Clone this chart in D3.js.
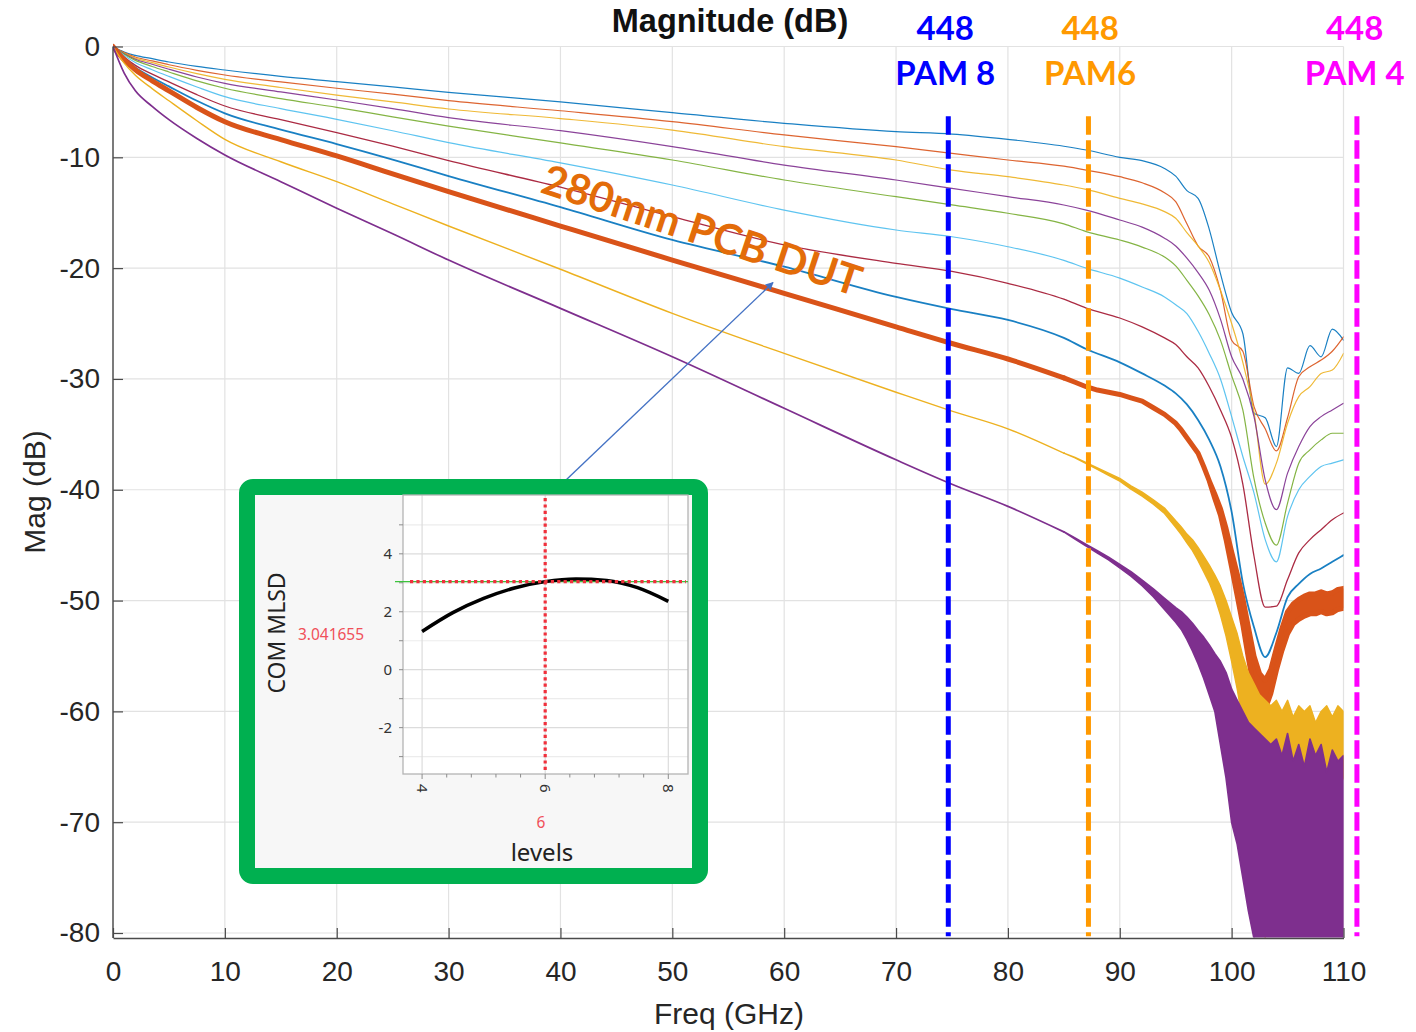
<!DOCTYPE html>
<html>
<head>
<meta charset="utf-8">
<script src="https://cdn.jsdelivr.net/npm/d3@7"></script>
<style>
  html, body { margin: 0; padding: 0; background: #ffffff; }
  #wrapper { width: 1416px; height: 1032px; }
</style>
</head>
<body>
<div id="wrapper"></div>
<script>

// 0. Data
const freqGHz = [0, 1, 2, 3.5, 5, 7.5, 10, 15, 20, 25, 30, 40, 50, 60, 70, 75, 80, 85, 87, 90, 92, 94, 95, 96, 97, 98, 99, 100, 101, 102, 103, 104, 105, 106, 107, 108, 109, 110]

const magTrace1 = [0, -0.5, -0.8, -1.1, -1.4, -1.8, -2.12, -2.7, -3.17, -3.65, -4.14, -5.0, -5.97, -6.93, -7.69, -7.9, -8.38, -9.0, -9.34, -10.0, -10.3, -11.0, -11.7, -13.0, -13.7, -16.5, -20.5, -24.0, -25.9, -33.1, -33.5, -36.1, -29.0, -29.5, -27.0, -28.0, -25.5, -26.5]
const magTrace2 = [0, -0.55, -0.95, -1.3, -1.65, -2.15, -2.57, -3.2, -3.77, -4.3, -4.89, -5.8, -6.78, -7.98, -9.04, -9.64, -10.24, -10.8, -11.15, -11.75, -12.3, -13.2, -14.0, -16.0, -18.0, -19.0, -22.0, -26.5, -27.5, -32.5, -34.5, -36.5, -33.5, -29.8, -28.9, -28.3, -27.5, -26.2]
const magTrace3 = [0, -0.6, -1.05, -1.45, -1.85, -2.45, -2.96, -3.7, -4.38, -5.0, -5.64, -6.5, -7.54, -9.04, -10.24, -11.15, -11.75, -12.5, -12.9, -13.7, -14.2, -14.9, -15.5, -16.8, -18.0, -19.5, -22.0, -25.0, -28.5, -33.0, -39.5, -37.6, -34.0, -31.6, -30.7, -29.5, -29.2, -27.7]
const magTrace4 = [0, -0.65, -1.15, -1.6, -2.05, -2.75, -3.32, -4.1, -4.83, -5.6, -6.42, -7.6, -9.04, -10.7, -12.05, -12.8, -13.55, -14.3, -14.76, -15.66, -16.3, -17.3, -18.0, -19.1, -20.4, -22.0, -24.6, -28.0, -30.0, -33.4, -39.1, -41.8, -38.5, -36.1, -34.3, -33.4, -32.8, -32.2]
const magTrace5 = [0, -0.7, -1.25, -1.8, -2.3, -3.1, -3.77, -4.7, -5.49, -6.35, -7.18, -8.7, -10.24, -12.05, -13.55, -14.3, -15.05, -16.0, -16.7, -17.46, -18.1, -19.0, -19.8, -21.1, -22.5, -24.2, -26.5, -29.7, -32.8, -39.0, -43.0, -45.0, -41.2, -37.6, -36.4, -35.5, -34.9, -34.9]
const magTrace6 = [0, -0.8, -1.45, -2.1, -2.7, -3.65, -4.53, -5.6, -6.57, -7.6, -8.68, -10.5, -12.5, -14.76, -16.56, -17.17, -18.07, -19.3, -20.0, -20.9, -21.7, -22.6, -23.3, -24.1, -25.7, -27.7, -30.0, -33.4, -37.0, -40.3, -44.5, -46.5, -42.4, -40.0, -38.8, -37.9, -37.6, -37.3]
const magTrace7 = [0, -0.95, -1.7, -2.5, -3.2, -4.35, -5.37, -6.6, -7.78, -9.0, -10.3, -12.7, -15.36, -17.9, -19.57, -20.3, -21.37, -22.8, -23.6, -24.5, -25.3, -26.3, -26.9, -28.0, -29.0, -30.7, -32.8, -35.3, -39.5, -46.0, -50.6, -50.5, -48.1, -45.7, -44.5, -43.6, -42.7, -42.1]
const magTrace8 = [0, -1.05, -1.9, -2.8, -3.6, -4.9, -6.03, -7.5, -8.8, -10.2, -11.69, -14.5, -17.46, -19.87, -22.6, -23.7, -24.68, -26.3, -27.3, -28.5, -29.5, -30.6, -31.3, -32.3, -33.7, -35.5, -37.9, -42.0, -48.4, -52.4, -55.1, -52.9, -49.7, -48.5, -47.6, -47.1, -46.5, -45.9]
const magTrace9 = [0, -1.2, -2.1, -3.1, -4.0, -5.5, -6.79, -8.4, -9.88, -11.5, -13.1, -16.2, -19.27, -22.27, -25.3, -26.8, -28.2, -29.9, -30.7, -31.4, -32.0, -33.2, -34.0, -35.3, -36.7, -39.2, -42.0, -46.3, -51.0, -56.5, -58.5, -55.5, -51.8, -50.9, -50.3, -50.2, -50.3, -50.1]
const magTrace10 = [0, -1.5, -2.6, -3.8, -4.9, -6.7, -8.38, -10.4, -12.2, -14.2, -16.2, -20.1, -24.08, -27.7, -31.2, -32.9, -34.5, -36.7, -37.6, -39.1, -40.4, -41.9, -43.1, -44.4, -45.8, -47.6, -50.0, -53.3, -57.8, -60.4, -62.0, -63.0, -62.5, -63.0, -62.5, -63.5, -63.0, -62.8]
const magTrace11 = [0, -2.4, -4.0, -5.4, -6.6, -8.3, -9.79, -12.2, -14.6, -16.9, -19.27, -23.63, -28.0, -32.65, -37.3, -39.5, -41.5, -43.8, -45.0, -46.9, -48.4, -50.3, -51.3, -52.5, -54.2, -56.3, -59.0, -62.0, -65.0, -68.0, -70.0, -70.0, -70.0, -70.0, -70.0, -70.0, -70.0, -70.0]

// noisy tails: upper / lower envelope of the trace
const tailFreq = [85, 86, 87, 88, 89, 90, 91, 92, 93, 94, 95, 95.5, 96, 96.5, 97, 97.5, 98, 98.5, 99, 99.5, 100, 100.5, 101, 101.5, 102, 102.5, 103, 103.5, 104, 104.5, 105, 105.5, 106, 106.5, 107, 107.5, 108, 108.5, 109, 109.5, 110]
const trace9Hi = [-29.9, -30.3, -30.7, -31.0, -31.2, -31.4, -31.7, -32.0, -32.6, -33.2, -34.0, -34.6, -35.3, -36.0, -36.7, -37.9, -39.2, -40.4, -41.7, -43.5, -45.6, -47.6, -49.8, -52.4, -55.0, -56.6, -57.2, -56.2, -54.3, -52.5, -51.0, -50.3, -49.9, -49.6, -49.4, -49.4, -49.2, -49.4, -49.3, -49.0, -48.9]
const trace9Lo = [-29.9, -30.3, -30.7, -31.0, -31.2, -31.4, -31.7, -32.0, -32.6, -33.2, -34.0, -34.6, -35.3, -36.0, -36.7, -37.9, -39.2, -40.8, -42.3, -44.5, -47.0, -49.6, -52.2, -55.2, -58.0, -59.4, -59.8, -58.4, -56.3, -54.5, -53.0, -52.1, -51.7, -51.4, -51.2, -51.2, -51.0, -51.2, -51.1, -50.8, -50.7]
const trace10Hi = [-36.7, -37.08, -37.55, -38.03, -38.5, -38.98, -39.65, -40.22, -40.9, -41.65, -42.8, -43.35, -44.0, -44.5, -45.2, -46.0, -46.8, -47.7, -48.7, -50.0, -51.5, -53.0, -55.0, -56.5, -57.5, -58.5, -59.0, -59.5, -59.0, -60.0, -59.0, -60.5, -59.5, -60.0, -59.5, -61.0, -60.0, -59.5, -60.5, -59.5, -60.0]
const trace10Lo = [-36.7, -37.12, -37.65, -38.17, -38.7, -39.22, -39.95, -40.58, -41.3, -42.15, -43.4, -44.05, -44.8, -45.5, -46.4, -47.4, -48.4, -49.7, -51.3, -53.2, -55.5, -58.0, -61.0, -63.0, -66.0, -72.0, -80.5, -68.0, -66.0, -67.0, -65.0, -67.0, -66.0, -68.0, -66.0, -69.0, -67.0, -66.0, -68.0, -67.0, -66.0]
const trace11Hi = [-43.8, -44.35, -44.93, -45.5, -46.08, -46.75, -47.4, -48.15, -48.95, -49.8, -50.65, -51.0, -51.5, -52.05, -52.7, -53.3, -54.0, -54.8, -55.5, -56.5, -58.0, -59.0, -60.0, -61.0, -61.5, -62.0, -62.5, -63.0, -62.5, -64.0, -62.0, -64.5, -63.0, -65.0, -62.5, -64.0, -63.0, -65.5, -63.5, -64.5, -64.0]
const trace11Lo = [-43.8, -44.45, -45.07, -45.7, -46.32, -47.05, -47.8, -48.65, -49.65, -50.8, -51.95, -52.6, -53.5, -54.55, -55.7, -57.0, -58.5, -60.0, -63.0, -66.0, -70.0, -72.0, -75.0, -78.0, -80.5, -80.5, -80.5, -80.5, -80.5, -80.5, -80.5, -80.5, -80.5, -80.5, -80.5, -80.5, -80.5, -80.5, -80.5, -80.5, -80.5]

const traceColors = ["#0072BD", "#D95319", "#EDB120", "#7E2F8E", "#77AC30", "#4DBEEE", "#A2142F", "#0072BD", "#D95319", "#EDB120", "#7E2F8E"]
const traceWidths = [1.2, 1.2, 1.2, 1.2, 1.2, 1.2, 1.3, 1.8, 5, 1.4, 1.7]

const xTicks = [0, 10, 20, 30, 40, 50, 60, 70, 80, 90, 100, 110]
const yTicks = [0, -10, -20, -30, -40, -50, -60, -70, -80]

// data-rate markers
const markerFreq = [74.67, 87.2, 111.2]
const markerTop = ["448", "448", "448"]
const markerBottom = ["PAM 8", "PAM6", "PAM 4"]
const markerLabelFreq = [74.4, 87.35, 111.0]
const markerColors = ["#0000FF", "#FF9900", "#FF00FF"]

// inset: COM MLSD vs levels
const levels = [4, 4.5, 5, 5.5, 6, 6.5, 7, 7.5, 8]
const comMlsd = [1.32, 1.97, 2.46, 2.82, 3.04, 3.13, 3.08, 2.83, 2.36]
const insetXTicks = [4, 6, 8]
const insetXMinor = [4.4, 4.8, 5.2, 5.6, 6.4, 6.8, 7.2, 7.6]
const insetYTicks = [-2, 0, 2, 4]
const insetYGrid = [-3, -2, -1, 0, 1, 2, 3, 4, 5]
const chosenLevel = 6
const chosenMlsd = 3.041655

async function drawMagnitude() {

  // 1. Chart dimensions
  const dimensions = {
    width: 1416,
    height: 1032,
    plotLeft: 113,
    plotRight: 1343.5,
    plotTop: 46.5,
    plotBottom: 938,
  }

  // 2. Canvas
  const svg = d3.select("#wrapper")
    .append("svg")
      .attr("width", dimensions.width)
      .attr("height", dimensions.height)
      .style("font-family", "'Liberation Sans', Arial, sans-serif")

  svg.append("rect")
      .attr("width", dimensions.width)
      .attr("height", dimensions.height)
      .attr("fill", "#ffffff")

  // 3. Scales
  const xScale = d3.scaleLinear()
    .domain([0, 110])
    .range([dimensions.plotLeft, dimensions.plotRight])

  const yScale = d3.scaleLinear()
    .domain([-80.45, 0])
    .range([dimensions.plotBottom, dimensions.plotTop])

  // 4. Grid
  const grid = svg.append("g")
  grid.selectAll(".vgrid")
    .data(xTicks)
    .enter().append("line")
      .attr("x1", d => xScale(d)).attr("x2", d => xScale(d))
      .attr("y1", yScale(0)).attr("y2", dimensions.plotBottom)
      .attr("stroke", "#e2e2e2")
      .attr("stroke-width", 1.2)
  grid.selectAll(".hgrid")
    .data(yTicks)
    .enter().append("line")
      .attr("x1", dimensions.plotLeft).attr("x2", xScale(110))
      .attr("y1", d => yScale(d)).attr("y2", d => yScale(d))
      .attr("stroke", "#e2e2e2")
      .attr("stroke-width", 1.2)

  // 5. Traces
  svg.append("clipPath")
      .attr("id", "plot-clip")
    .append("rect")
      .attr("x", dimensions.plotLeft)
      .attr("y", dimensions.plotTop - 6)
      .attr("width", dimensions.plotRight - dimensions.plotLeft)
      .attr("height", dimensions.plotBottom - dimensions.plotTop + 5.5)

  const traceValues = [magTrace1, magTrace2, magTrace3, magTrace4, magTrace5, magTrace6,
    magTrace7, magTrace8, magTrace9, magTrace10, magTrace11]
  const tailBands = {
    8: {hi: trace9Hi, lo: trace9Lo},
    9: {hi: trace10Hi, lo: trace10Lo},
    10: {hi: trace11Hi, lo: trace11Lo},
  }

  const lineGenerator = d3.line()
    .curve(d3.curveMonotoneX)
    .x(d => xScale(d.f))
    .y(d => yScale(d.v))

  const bandGenerator = d3.area()
    .x(d => xScale(d.f))
    .y0(d => yScale(d.lo))
    .y1(d => yScale(d.hi))

  const traces = svg.append("g")
      .attr("clip-path", "url(#plot-clip)")

  traceValues.forEach((values, i) => {
    const band = tailBands[i]
    // with a noisy tail the clean line stops where the envelope starts
    const points = freqGHz
      .map((f, j) => ({f: f, v: values[j]}))
      .filter(d => !band || d.f <= tailFreq[0])
    traces.append("path")
        .attr("d", lineGenerator(points))
        .attr("fill", "none")
        .attr("stroke", traceColors[i])
        .attr("stroke-width", traceWidths[i])
        .attr("stroke-linejoin", "round")
        .attr("stroke-linecap", "round")
        .attr("opacity", i < 8 ? 0.9 : 1)

    if (band) {
      const bandPoints = tailFreq.map((f, j) => ({f: f, hi: band.hi[j], lo: band.lo[j]}))
      traces.append("path")
          .attr("d", bandGenerator(bandPoints))
          .attr("fill", traceColors[i])
          .attr("stroke", traceColors[i])
          .attr("stroke-width", traceWidths[i])
          .attr("stroke-linejoin", "round")
    }
  })

  // 6. Axes (MATLAB style, ticks inside)
  const xAxisGenerator = d3.axisBottom(xScale)
    .tickValues(xTicks)
    .tickFormat(d => String(d))
    .tickSizeInner(-10)
    .tickSizeOuter(0)
    .tickPadding(23)

  const yAxisGenerator = d3.axisLeft(yScale)
    .tickValues(yTicks)
    .tickFormat(d => String(d))
    .tickSizeInner(-10)
    .tickSizeOuter(0)
    .tickPadding(13)

  const xAxis = svg.append("g")
      .attr("transform", `translate(0, ${dimensions.plotBottom})`)
      .call(xAxisGenerator)
  const yAxis = svg.append("g")
      .attr("transform", `translate(${dimensions.plotLeft}, 0)`)
      .call(yAxisGenerator)

  ;[xAxis, yAxis].forEach(axis => {
    axis.select(".domain").attr("stroke", "#4a4a4a").attr("stroke-width", 1.4)
    axis.selectAll(".tick line").attr("stroke", "#4a4a4a").attr("stroke-width", 1.2)
    axis.selectAll(".tick text")
        .attr("fill", "#262626")
        .style("font-family", "'Liberation Sans', Arial, sans-serif")
        .style("font-size", "28px")
  })
  yAxis.select(".domain").attr("d", `M0,${dimensions.plotBottom}V${dimensions.plotTop}`)

  svg.append("text")
      .attr("x", 729)
      .attr("y", 1024)
      .attr("text-anchor", "middle")
      .attr("fill", "#262626")
      .style("font-size", "30px")
      .text("Freq (GHz)")

  svg.append("text")
      .attr("transform", "translate(45, 492) rotate(-90)")
      .attr("text-anchor", "middle")
      .attr("fill", "#262626")
      .style("font-size", "30px")
      .text("Mag (dB)")

  svg.append("text")
      .attr("x", 730)
      .attr("y", 32)
      .attr("text-anchor", "middle")
      .attr("fill", "#111111")
      .style("font-size", "32.5px")
      .style("font-weight", "bold")
      .text("Magnitude (dB)")

  // 7. Data-rate markers
  markerFreq.forEach((f, i) => {
    svg.append("line")
        .attr("x1", xScale(f)).attr("x2", xScale(f))
        .attr("y1", yScale(-6.3)).attr("y2", yScale(-80.3))
        .attr("stroke", markerColors[i])
        .attr("stroke-width", 5)
        .attr("stroke-dasharray", "18.5,5.5")

    const label = svg.append("text")
        .attr("text-anchor", "middle")
        .attr("fill", markerColors[i])
        .style("font-family", "Lato, 'Open Sans', sans-serif")
        .style("font-weight", "bold")
        .style("font-size", "33px")
    label.append("tspan")
        .attr("x", xScale(markerLabelFreq[i]))
        .attr("y", 40)
        .text(markerTop[i])
    label.append("tspan")
        .attr("x", xScale(markerLabelFreq[i]))
        .attr("y", 85)
        .text(markerBottom[i])
  })

  // 8. DUT annotation and arrow
  svg.append("text")
      .attr("transform", "translate(539, 192) rotate(18.3)")
      .attr("fill", "#E36C09")
      .style("font-family", "Lato, 'Open Sans', sans-serif")
      .style("font-weight", "bold")
      .style("font-size", "42px")
      .text("280mm PCB DUT")

  svg.append("defs").append("marker")
      .attr("id", "arrow-head")
      .attr("viewBox", "0 0 10 10")
      .attr("refX", 9)
      .attr("refY", 5)
      .attr("markerWidth", 9)
      .attr("markerHeight", 8)
      .attr("markerUnits", "userSpaceOnUse")
      .attr("orient", "auto")
    .append("path")
      .attr("d", "M0,0L10,5L0,10Z")
      .attr("fill", "#4472C4")

  // 9. Inset: COM MLSD vs levels
  const inset = {left: 403, right: 688, top: 495, bottom: 774}
  const insetX = d3.scaleLinear().domain([3.69, 8.32]).range([inset.left, inset.right])
  const insetY = d3.scaleLinear().domain([-3.6, 6.03]).range([inset.bottom, inset.top])

  svg.append("line")
      .attr("x1", insetX(6.1)).attr("y1", 494)
      .attr("x2", xScale(59.0)).attr("y2", yScale(-21.3))
      .attr("stroke", "#4472C4")
      .attr("stroke-width", 1.4)
      .attr("marker-end", "url(#arrow-head)")

  const ig = svg.append("g")
      .style("font-family", "'Noto Sans', 'Open Sans', sans-serif")

  ig.append("rect")
      .attr("x", 247).attr("y", 487)
      .attr("width", 453).attr("height", 389)
      .attr("rx", 6)
      .attr("fill", "#f7f7f7")
      .attr("stroke", "#00B050")
      .attr("stroke-width", 16)

  ig.append("rect")
      .attr("x", inset.left).attr("y", inset.top)
      .attr("width", inset.right - inset.left)
      .attr("height", inset.bottom - inset.top)
      .attr("fill", "#ffffff")

  ig.selectAll(".ihgrid")
    .data(insetYGrid)
    .enter().append("line")
      .attr("x1", inset.left).attr("x2", inset.right)
      .attr("y1", d => insetY(d)).attr("y2", d => insetY(d))
      .attr("stroke", d => d % 2 === 0 ? "#dcdcdc" : "#ececec")
      .attr("stroke-width", 1.2)
  ig.selectAll(".ivgrid")
    .data(insetXTicks)
    .enter().append("line")
      .attr("x1", d => insetX(d)).attr("x2", d => insetX(d))
      .attr("y1", inset.top).attr("y2", inset.bottom)
      .attr("stroke", "#dcdcdc")
      .attr("stroke-width", 1.2)

  ig.append("rect")
      .attr("x", inset.left).attr("y", inset.top)
      .attr("width", inset.right - inset.left)
      .attr("height", inset.bottom - inset.top)
      .attr("fill", "none")
      .attr("stroke", "#b4b4b4")
      .attr("stroke-width", 1.3)

  // inset ticks
  ig.selectAll(".iytick")
    .data(insetYGrid)
    .enter().append("line")
      .attr("x1", inset.left - 4).attr("x2", inset.left)
      .attr("y1", d => insetY(d)).attr("y2", d => insetY(d))
      .attr("stroke", "#8c8c8c")
  ig.selectAll(".ixtick")
    .data(insetXTicks.concat(insetXMinor))
    .enter().append("line")
      .attr("x1", d => insetX(d)).attr("x2", d => insetX(d))
      .attr("y1", inset.bottom)
      .attr("y2", d => inset.bottom + (insetXTicks.includes(d) ? 5 : 3.5))
      .attr("stroke", "#8c8c8c")

  ig.selectAll(".iylabel")
    .data(insetYTicks)
    .enter().append("text")
      .attr("x", 392)
      .attr("y", d => insetY(d))
      .attr("dy", "0.35em")
      .attr("text-anchor", "end")
      .attr("fill", "#333333")
      .style("font-size", "15px")
      .text(d => d)
  ig.selectAll(".ixlabel")
    .data(insetXTicks)
    .enter().append("text")
      .attr("transform", d => `translate(${insetX(d)}, 784) rotate(90)`)
      .attr("dy", "0.35em")
      .attr("text-anchor", "start")
      .attr("fill", "#333333")
      .style("font-size", "15px")
      .text(d => d)

  // reference lines
  ig.append("line")
      .attr("x1", 395).attr("x2", inset.right)
      .attr("y1", insetY(chosenMlsd)).attr("y2", insetY(chosenMlsd))
      .attr("stroke", "#3cc43c")
      .attr("stroke-width", 1.2)

  const insetLine = d3.line()
    .curve(d3.curveMonotoneX)
    .x((d, i) => insetX(d))
    .y((d, i) => insetY(comMlsd[i]))

  ig.append("path")
      .attr("d", insetLine(levels))
      .attr("fill", "none")
      .attr("stroke", "#000000")
      .attr("stroke-width", 3.5)
      .attr("stroke-linecap", "butt")

  ig.append("line")
      .attr("x1", 410).attr("x2", inset.right - 2)
      .attr("y1", insetY(chosenMlsd)).attr("y2", insetY(chosenMlsd))
      .attr("stroke", "#f0303c")
      .attr("stroke-width", 3.2)
      .attr("stroke-dasharray", "3.2,3.2")
  ig.append("line")
      .attr("x1", insetX(chosenLevel)).attr("x2", insetX(chosenLevel))
      .attr("y1", inset.top + 3).attr("y2", inset.bottom - 3)
      .attr("stroke", "#f0303c")
      .attr("stroke-width", 3.2)
      .attr("stroke-dasharray", "3.2,3.2")

  ig.append("text")
      .attr("transform", "translate(285, 633) rotate(-90)")
      .attr("text-anchor", "middle")
      .attr("fill", "#222222")
      .style("font-size", "23px")
      .text("COM MLSD")
  ig.append("text")
      .attr("x", 331).attr("y", 640)
      .attr("text-anchor", "middle")
      .attr("fill", "#f0505a")
      .style("font-size", "15.5px")
      .text(chosenMlsd)
  ig.append("text")
      .attr("x", 541).attr("y", 828)
      .attr("text-anchor", "middle")
      .attr("fill", "#f0505a")
      .style("font-size", "15.5px")
      .text(chosenLevel)
  ig.append("text")
      .attr("x", 542).attr("y", 861)
      .attr("text-anchor", "middle")
      .attr("fill", "#222222")
      .style("font-size", "24px")
      .text("levels")
}
drawMagnitude()
</script>
</body>
</html>
